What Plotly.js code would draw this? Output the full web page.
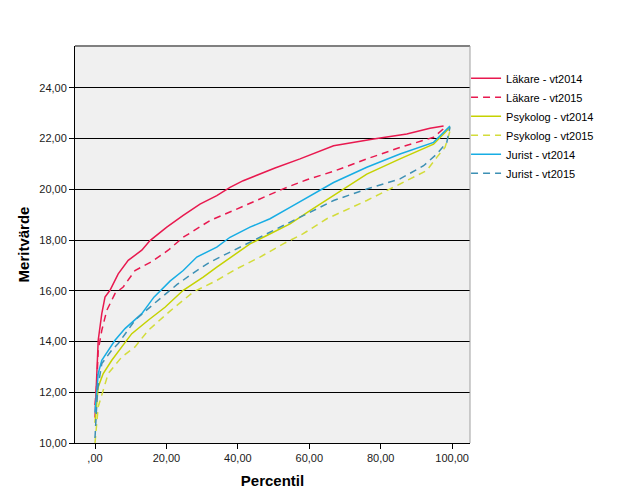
<!DOCTYPE html>
<html>
<head>
<meta charset="utf-8">
<script src="https://cdn.plot.ly/plotly-3.0.1.min.js"></script>
<style>
html,body{margin:0;padding:0;background:#fff;}
#chart{width:629px;height:504px;}
</style>
</head>
<body>
<div id="chart"></div>
<script>
// Data (percentile vs meritvärde)
var lak14X = [0, 0.2, 0.5, 0.9, 1.9, 2.8, 4.2, 6.5, 9.3, 13.1, 15.4, 20.1, 24.7, 29.4, 34.1, 37.8, 41.5, 46, 50.4, 57.4, 66.8, 78.0, 87.3, 93.8, 97.6];
var lak14Y = [11.0, 11.6, 12.6, 14.05, 15.1, 15.75, 16.02, 16.67, 17.2, 17.6, 17.98, 18.51, 18.97, 19.42, 19.75, 20.08, 20.34, 20.6, 20.84, 21.2, 21.72, 21.98, 22.18, 22.41, 22.5];

var lak15X = [0, 0.5, 0.9, 1.9, 3.3, 5.6, 7.9, 11.2, 15.9, 20.5, 24.7, 32.2, 38.7, 45.3, 52.7, 59.3, 66.8, 76.1, 85.4, 94.8, 98.5];
var lak15Y = [11.5, 12.35, 13.66, 14.44, 15.23, 15.89, 16.15, 16.8, 17.15, 17.6, 18.11, 18.77, 19.16, 19.56, 20.02, 20.38, 20.71, 21.2, 21.65, 22.05, 22.5];

var psy14X = [0, 0.9, 2.3, 4.7, 7.5, 10.3, 14.9, 19.6, 24.7, 30.3, 34.1, 38.7, 43.4, 48.1, 54.6, 60.2, 66.8, 76.1, 85.4, 94.8, 99.4];
var psy14Y = [10.8, 12.21, 12.74, 13.26, 13.79, 14.31, 14.84, 15.35, 16.02, 16.54, 16.93, 17.39, 17.85, 18.18, 18.64, 19.16, 19.75, 20.6, 21.2, 21.78, 22.44];

var psy15X = [0, 0.9, 2.3, 3.7, 7.5, 11.2, 14.9, 21.0, 27.5, 34.1, 39.7, 46.2, 52.7, 58.3, 64.9, 76.1, 85.4, 92.9, 95.7, 98.0, 99.4];
var psy15Y = [10.0, 11.43, 12.08, 12.74, 13.39, 13.79, 14.44, 15.2, 15.95, 16.41, 16.87, 17.33, 17.85, 18.25, 18.84, 19.56, 20.21, 20.74, 21.26, 21.65, 22.3];

var jur14X = [0, 0.9, 1.9, 3.7, 5.6, 8.4, 13.1, 16.5, 21.0, 24.7, 28.5, 34.1, 37.8, 43.4, 49.0, 54.6, 60.2, 66.8, 76.1, 85.4, 94.8, 99.4];
var jur14Y = [11.2, 12.74, 13.26, 13.66, 14.05, 14.51, 15.1, 15.75, 16.38, 16.8, 17.33, 17.72, 18.11, 18.51, 18.84, 19.29, 19.75, 20.27, 20.87, 21.39, 21.85, 22.5];

var jur15X = [0, 0.7, 1.9, 4.7, 6.5, 11.2, 17.0, 23.0, 28.0, 32.2, 35.9, 43.4, 48.1, 54.6, 59.3, 66.8, 76.1, 85.4, 92.0, 95.7, 98.5, 99.4];
var jur15Y = [10.2, 12.08, 13.13, 13.66, 13.92, 14.84, 15.55, 16.25, 16.75, 17.13, 17.39, 17.92, 18.25, 18.7, 19.03, 19.56, 20.01, 20.41, 20.93, 21.39, 21.85, 22.45];

var seriesNames = ["Läkare - vt2014", "Läkare - vt2015", "Psykolog - vt2014", "Psykolog - vt2015", "Jurist - vt2014", "Jurist - vt2015"];

var xTickVals = [0, 20, 40, 60, 80, 100];
var xTickText = [",00", "20,00", "40,00", "60,00", "80,00", "100,00"];
var yTickVals = [10, 12, 14, 16, 18, 20, 22, 24];
var yTickText = ["10,00", "12,00", "14,00", "16,00", "18,00", "20,00", "22,00", "24,00"];

var colors = ["#e8194f", "#e8194f", "#c5d200", "#d3dc3a", "#17ade4", "#3d90b4"];
var dashes = ["solid", "7px,5px", "solid", "7px,5px", "solid", "7px,5px"];
var xs = [lak14X, lak15X, psy14X, psy15X, jur14X, jur15X];
var ys = [lak14Y, lak15Y, psy14Y, psy15Y, jur14Y, jur15Y];

var traces = [];
for (var i = 0; i < 6; i++) {
  traces.push({
    x: xs[i], y: ys[i], type: "scatter", mode: "lines", name: seriesNames[i],
    line: {color: colors[i], width: 1.5, dash: dashes[i]}
  });
}

var layout = {
  width: 629, height: 504,
  margin: {l: 75, r: 159, t: 46, b: 61},
  paper_bgcolor: "#ffffff",
  plot_bgcolor: "#f0f0f0",
  font: {family: "Liberation Sans, Arial, sans-serif", size: 11, color: "#1a1a1a"},
  showlegend: true,
  legend: {
    x: 0.99, xanchor: "left", y: 0.955, yanchor: "top",
    bgcolor: "rgba(0,0,0,0)", borderwidth: 0,
    font: {family: "Liberation Sans, Arial, sans-serif", size: 11, color: "#000"},
    itemwidth: 30, tracegroupgap: 0
  },
  xaxis: {
    range: [-5.6, 105], tickmode: "array", tickvals: xTickVals, ticktext: xTickText,
    showgrid: false, zeroline: false, showline: true, linecolor: "#000", linewidth: 1,
    ticks: "outside", ticklen: 5, tickcolor: "#000", tickwidth: 1,
    title: {text: "Percentil", font: {size: 15, color: "#000", family: "Liberation Sans, Arial, sans-serif", weight: "bold"}, standoff: 12}
  },
  yaxis: {
    range: [10, 25.65], tickmode: "array", tickvals: yTickVals, ticktext: yTickText,
    showgrid: true, gridcolor: "#000", gridwidth: 1, zeroline: false,
    showline: true, linecolor: "#000", linewidth: 1,
    ticks: "outside", ticklen: 5, tickcolor: "#000", tickwidth: 1,
    title: {text: "Meritvärde", font: {size: 15, color: "#000", family: "Liberation Sans, Arial, sans-serif", weight: "bold"}, standoff: 6}
  },
  shapes: [
    {type: "line", xref: "paper", yref: "paper", x0: 0, x1: 1, y0: 1, y1: 1, line: {color: "#808080", width: 2}},
    {type: "line", xref: "paper", yref: "paper", x0: 1, x1: 1, y0: 0, y1: 1, line: {color: "#a0a0a0", width: 1}}
  ]
};

Plotly.newPlot("chart", traces, layout, {displayModeBar: false, staticPlot: true});
</script>
</body>
</html>
